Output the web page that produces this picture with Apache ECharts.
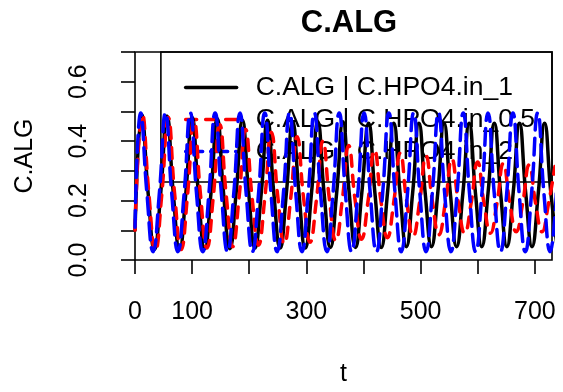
<!DOCTYPE html>
<html><head><meta charset="utf-8">
<script src="https://cdn.jsdelivr.net/npm/echarts@6/dist/echarts.min.js"></script>
<style>html,body{margin:0;padding:0;background:#fff}#c{width:563px;height:392px}</style>
</head><body><div id="c"></div><script>
const chartTitle = 'C.ALG';
const xTitle = 't';
const yTitle = 'C.ALG';
const seriesNames = ['C.ALG | C.HPO4.in_1', 'C.ALG | C.HPO4.in_0.5', 'C.ALG | C.HPO4.in_2'];
const xTicks = [0, 100, 200, 300, 400, 500, 600, 700];
const xTickLabels = [0, 100, 300, 500, 700];
const yTicks = [0, 0.1, 0.2, 0.3, 0.4, 0.5, 0.6, 0.7];
const yTickLabels = [0, 0.2, 0.4, 0.6];

// [t, value]: peaks, mid-slopes, troughs
const blackPoints = [
[0,0.10],[12,0.49],[23,0.225],[34,0.035],[45,0.225],
[56,0.485],[67,0.225],[78,0.035],[89,0.225],
[100,0.48],[111,0.225],[122,0.038],[133,0.225],
[144,0.475],[155,0.225],[166,0.038],[177,0.225],
[188,0.47],[199,0.225],[210,0.04],[221,0.225],
[232,0.47],[243,0.225],[254,0.04],[265,0.225],
[276,0.465],[287,0.225],[298,0.04],[309,0.225],
[320,0.465],[331,0.225],[342,0.042],[353,0.225],
[364,0.465],[375,0.225],[386,0.042],[397,0.225],
[409,0.46],[420,0.225],[431,0.042],[442,0.225],
[453,0.46],[464,0.225],[475,0.045],[486,0.225],
[497,0.46],[508,0.225],[519,0.045],[530,0.225],
[541,0.46],[552,0.225],[563,0.045],[574,0.225],
[585,0.46],[596,0.225],[607,0.045],[618,0.225],
[629,0.46],[640,0.225],[651,0.045],[662,0.225],
[673,0.46],[684,0.225],[695,0.045],[706,0.225],
[717,0.46],[728,0.225],[739,0.045]
];
const redPoints = [
[0,0.10],[13,0.49],[24.3,0.223],[35.6,0.03],[46.8,0.219],
[58.1,0.48],[69.4,0.222],[80.7,0.035],[91.9,0.218],
[103.3,0.47],[114.6,0.221],[125.9,0.04],[137.1,0.214],
[148.4,0.455],[159.7,0.217],[171,0.045],[182.2,0.211],
[193.5,0.44],[204.8,0.214],[216.1,0.05],[227.3,0.21],
[238.7,0.43],[250,0.213],[261.3,0.055],[272.5,0.206],
[283.8,0.415],[295.1,0.209],[306.4,0.06],[317.6,0.203],
[328.9,0.40],[340.2,0.206],[351.5,0.065],[362.7,0.199],
[374,0.385],[385.3,0.202],[396.6,0.07],[407.8,0.196],
[419.2,0.37],[430.5,0.199],[441.8,0.075],[453,0.195],
[464.3,0.36],[475.6,0.198],[486.9,0.08],[498.1,0.193],
[509.4,0.35],[520.7,0.196],[532,0.085],[543.2,0.192],
[554.6,0.34],[565.9,0.195],[577.2,0.09],[588.4,0.191],
[599.7,0.33],[611,0.191],[622.3,0.09],[633.5,0.189],
[644.8,0.325],[656.1,0.192],[667.4,0.095],[678.6,0.19],
[690,0.32],[701.3,0.19],[712.6,0.095],[723.8,0.189],
[735.1,0.315]
];
const bluePoints = [
[0,0.11],[10,0.495],[20.9,0.224],[31.7,0.028],[42.6,0.224],
[53.4,0.495],[64.3,0.224],[75.1,0.028],[86,0.224],
[96.9,0.495],[107.7,0.224],[118.6,0.028],[129.4,0.224],
[140.3,0.495],[151.2,0.224],[162,0.028],[172.9,0.224],
[183.8,0.495],[194.6,0.224],[205.5,0.028],[216.3,0.224],
[227.2,0.495],[238.1,0.224],[248.9,0.028],[259.8,0.224],
[270.6,0.495],[281.5,0.224],[292.3,0.028],[303.2,0.224],
[314,0.495],[324.9,0.224],[335.8,0.028],[346.6,0.224],
[357.5,0.495],[368.4,0.224],[379.2,0.028],[390.1,0.224],
[401,0.495],[411.8,0.224],[422.7,0.028],[433.5,0.224],
[444.4,0.495],[455.3,0.224],[466.1,0.028],[477,0.224],
[487.8,0.495],[498.7,0.224],[509.5,0.028],[520.4,0.224],
[531.3,0.495],[542.1,0.224],[553,0.028],[563.8,0.224],
[574.7,0.495],[585.6,0.224],[596.4,0.028],[607.3,0.224],
[618,0.495],[628.9,0.224],[639.8,0.028],[650.7,0.224],
[661.6,0.495],[672.5,0.224],[683.3,0.028],[694.2,0.224],
[705,0.495],[715.9,0.224],[726.7,0.028],[737.6,0.224]
];
const seriesColors = ['#000000', '#ff0000', '#0000ff'];

const FONT = '"Liberation Sans", Arial, sans-serif';
const chart = echarts.init(document.getElementById('c'), null, {renderer: 'canvas'});
function mk(name, data, color, dash) {
  return {
    name: name, type: 'line', data: data, smooth: true, symbol: 'none', z: 5,
    clip: true, animation: false,
    lineStyle: {color: color, width: 3.5, type: dash, cap: 'round'},
    itemStyle: {color: color}
  };
}
chart.setOption({
  animation: false,
  backgroundColor: '#ffffff',
  title: {
    text: chartTitle, left: 344, top: 3, textAlign: 'center',
    textStyle: {fontFamily: FONT, fontWeight: 'bold', fontSize: 31, color: '#000'}
  },
  grid: {left: 135, right: 11, top: 52, bottom: 131, show: true, borderColor: '#000', borderWidth: 1.6, containLabel: false},
  legend: {
    orient: 'vertical', right: 11, top: 52, z: 1, selectedMode: false,
    data: seriesNames,
    padding: [22, 17, 17, 23], itemWidth: 51, itemHeight: 14, itemGap: 5,
    itemStyle: {opacity: 0},
    lineStyle: {width: 3.5, cap: 'round'},
    borderColor: '#000', borderWidth: 1.6, backgroundColor: 'transparent',
    textStyle: {fontFamily: FONT, fontSize: 26.5, lineHeight: 26, color: '#000', padding: [0, 0, 0, 14]}
  },
  xAxis: {
    type: 'value', min: 0, max: 730, interval: 100,
    name: xTitle, nameLocation: 'middle', nameGap: 102,
    nameTextStyle: {fontFamily: FONT, fontSize: 25, color: '#000'},
    axisLine: {show: false},
    axisTick: {show: true, inside: false, length: 14, customValues: xTicks, lineStyle: {color: '#000', width: 1.6}},
    axisLabel: {customValues: xTickLabels, margin: 40, fontFamily: FONT, fontSize: 25, color: '#000',
      formatter: v => String(v)},
    splitLine: {show: false}
  },
  yAxis: {
    type: 'value', min: 0, max: 0.7, interval: 0.1,
    name: yTitle, nameLocation: 'middle', nameGap: 97, nameRotate: 90,
    nameTextStyle: {fontFamily: FONT, fontSize: 25, color: '#000'},
    axisLine: {show: false},
    axisTick: {show: true, inside: false, length: 14, customValues: yTicks, lineStyle: {color: '#000', width: 1.6}},
    axisLabel: {customValues: yTickLabels, rotate: 90, margin: 43, fontFamily: FONT, fontSize: 25, color: '#000',
      formatter: v => v.toFixed(1)},
    splitLine: {show: false}
  },
  series: [
    mk(seriesNames[0], blackPoints, seriesColors[0], 'solid'),
    mk(seriesNames[1], redPoints, seriesColors[1], [11, 9]),
    mk(seriesNames[2], bluePoints, seriesColors[2], [17, 8])
  ]
});
</script></body></html>
